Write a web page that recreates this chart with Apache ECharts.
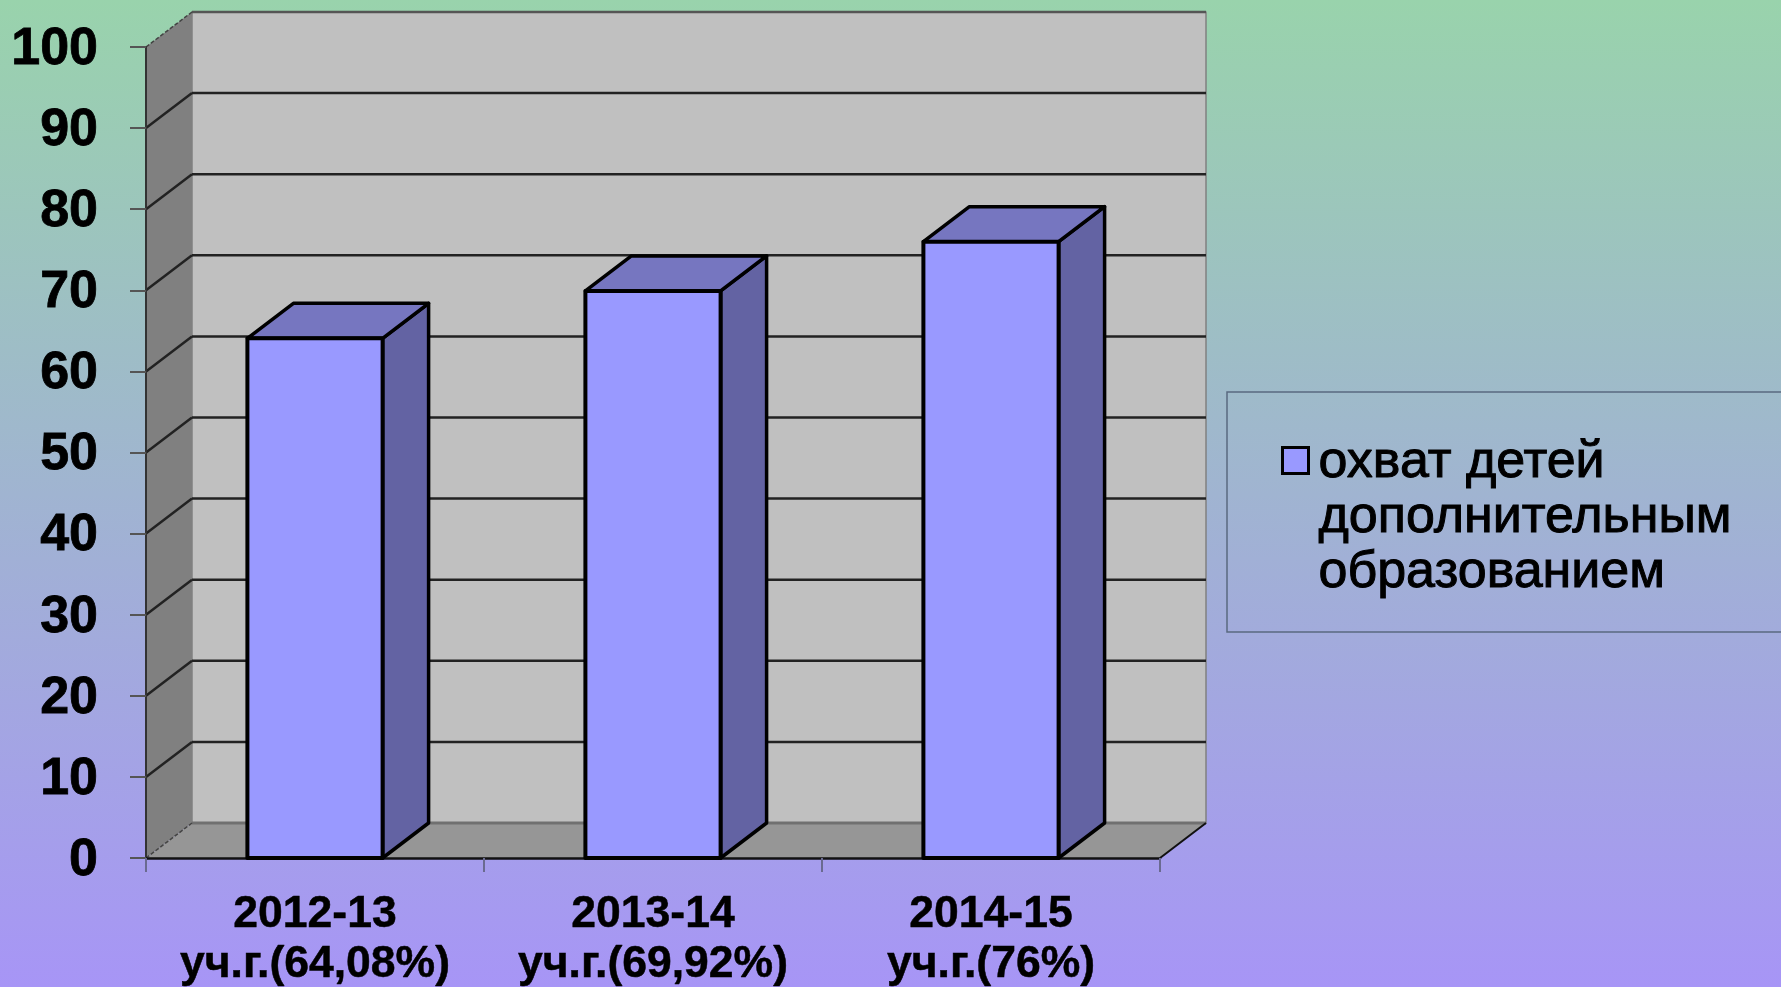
<!DOCTYPE html>
<html>
<head>
<meta charset="utf-8">
<style>html,body{margin:0;padding:0;width:100%;height:100%;overflow:hidden;background:#a0b0d0}#c{width:1781px;height:987px;filter:blur(0.6px)}</style>
<script src="https://cdn.jsdelivr.net/npm/echarts@6/dist/echarts.min.js"></script>
</head>
<body>
<div id="c"></div>
<script>
const categories = ['2012-13\nуч.г.(64,08%)', '2013-14\nуч.г.(69,92%)', '2014-15\nуч.г.(76%)'];
const coverageValues = [64.08, 69.92, 76];
const yTicks = [0, 10, 20, 30, 40, 50, 60, 70, 80, 90, 100];
const seriesName = 'охват детей\nдополнительным\nобразованием';

const DX = 46, DY = -35;
const FONT = '"Liberation Sans", Arial, sans-serif';
const chart = echarts.init(document.getElementById('c'), null, {renderer: 'canvas'});

function poly(points, fill, stroke, lineWidth) {
  return {type: 'polygon', shape: {points}, style: {fill, stroke: stroke || 'none', lineWidth: lineWidth || 0, lineJoin: 'round'}, silent: true};
}
function line(x1, y1, x2, y2, stroke, lineWidth, dash) {
  return {type: 'line', shape: {x1, y1, x2, y2}, style: {stroke, lineWidth, lineDash: dash || null}, silent: true};
}

function renderWalls(params, api) {
  const cs = params.coordSys;
  const left = cs.x, right = cs.x + cs.width;
  const value = api.value(0);
  const y = api.coord([0, value])[1];
  const children = [];
  if (params.dataIndex === 0) {
    const top = api.coord([0, yTicks[yTicks.length - 1]])[1];
    const bottom = api.coord([0, yTicks[0]])[1];
    children.push(
      poly([[left + DX, top + DY], [right + DX, top + DY], [right + DX, bottom + DY], [left + DX, bottom + DY]], '#c0c0c0', '#808080', 1.5),
      poly([[left, top], [left + DX, top + DY], [left + DX, bottom + DY], [left, bottom]], '#808080'),
      poly([[left, bottom], [left + DX, bottom + DY], [right + DX, bottom + DY], [right, bottom]], '#969696'),
      line(left + DX, bottom + DY, right + DX, bottom + DY, '#707070', 3),
      line(right, bottom, right + DX, bottom + DY, '#111', 2)
    );
  }
  const isEdge = value === yTicks[0] || value === yTicks[yTicks.length - 1];
  if (value === yTicks[yTicks.length - 1]) {
    children.push(line(left + DX, y + DY, right + DX, y + DY, '#555', 2.5));
  } else if (value !== yTicks[0]) {
    children.push(line(left + DX, y + DY, right + DX, y + DY, '#222', 2.5));
  }
  children.push(isEdge
    ? line(left, y, left + DX, y + DY, '#444', 1.5, [4, 2])
    : line(left, y, left + DX, y + DY, '#222', 2.5));
  return {type: 'group', children};
}

function renderBar(params, api) {
  const idx = api.value(0);
  const val = api.value(1);
  const topC = api.coord([idx, val]);
  const botC = api.coord([idx, 0]);
  const w = api.size([1, 0])[0] * 0.4;
  const x0 = topC[0] - w / 2, x1 = topC[0] + w / 2;
  const yt = topC[1], yb = botC[1];
  return {type: 'group', children: [
    poly([[x1, yt], [x1 + DX, yt + DY], [x1 + DX, yb + DY], [x1, yb]], '#6363a3', '#000', 3.5),
    poly([[x0, yt], [x0 + DX, yt + DY], [x1 + DX, yt + DY], [x1, yt]], '#7676c0', '#000', 3.5),
    poly([[x0, yt], [x1, yt], [x1, yb], [x0, yb]], '#9999ff', '#000', 4)
  ]};
}

chart.setOption({
  animation: false,
  backgroundColor: new echarts.graphic.LinearGradient(0, 0, 0, 1, [
    {offset: 0, color: '#99d3ac'},
    {offset: 1, color: '#a795f6'}
  ]),
  grid: {left: 146, top: 47, width: 1014, height: 811, containLabel: false, outerBoundsMode: 'none'},
  legend: {
    left: 1227, top: 392,
    orient: 'vertical',
    padding: [40, 300, 29, 54],
    borderColor: '#5a6a80', borderWidth: 1.5,
    itemWidth: 31, itemHeight: 168, itemGap: 0,
    icon: 'path://M0 0M0 14H26V40H0Z M31 168',
    itemStyle: {color: '#9999ff', borderColor: '#000', borderWidth: 3},
    textStyle: {fontFamily: FONT, fontSize: 52, lineHeight: 55, color: '#000', textBorderColor: '#000', textBorderWidth: 1},
    data: [seriesName],
    selectedMode: false
  },
  xAxis: {
    type: 'category', data: categories, z: 3,
    axisLine: {show: true, onZero: false, lineStyle: {color: '#111', width: 2.5}},
    axisTick: {show: true, length: 14, lineStyle: {color: '#6a6a90', width: 2}},
    axisLabel: {interval: 0, hideOverlap: false, fontFamily: FONT, fontWeight: 'bold', fontSize: 44.5, lineHeight: 50, color: '#000', margin: 32, textBorderColor: '#000', textBorderWidth: 0.5},
    splitLine: {show: false}
  },
  yAxis: {
    type: 'value', min: 0, max: 100, interval: 10, z: 3,
    axisLine: {show: true, lineStyle: {color: '#333', width: 2}},
    axisTick: {show: true, length: 16, lineStyle: {color: '#555', width: 2}},
    axisLabel: {fontFamily: FONT, fontWeight: 'bold', fontSize: 52, color: '#000', margin: 48, verticalAlign: 'top', lineHeight: 5, textBorderColor: '#000', textBorderWidth: 0.8},
    splitLine: {show: false}
  },
  series: [
    {type: 'custom', name: 'стены', z: 1, silent: true, renderItem: renderWalls,
     encode: {y: 0}, data: yTicks.map(v => [v]), clip: false},
    {type: 'custom', name: seriesName, z: 5, renderItem: renderBar,
     encode: {x: 0, y: 1}, itemStyle: {color: '#9999ff'},
     data: coverageValues.map((v, i) => [i, v]), clip: false}
  ]
});
</script>
</body>
</html>
